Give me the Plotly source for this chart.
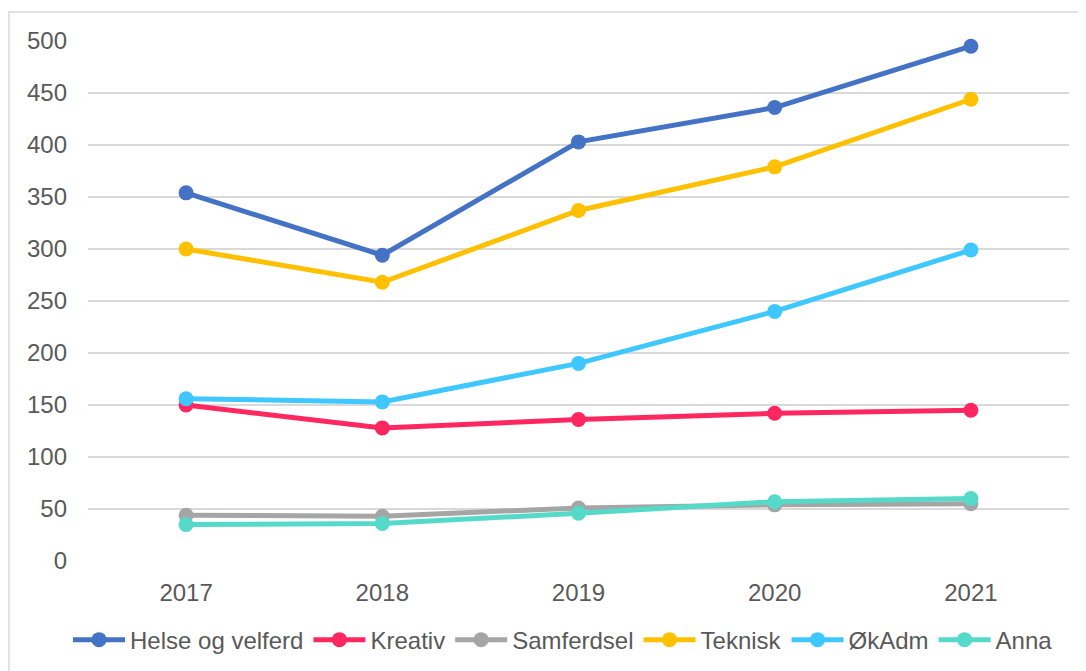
import plotly.graph_objects as go

years = ["2017", "2018", "2019", "2020", "2021"]
helse = [354, 294, 403, 436, 495]
kreativ = [150, 128, 136, 142, 145]
samferdsel = [44, 43, 51, 54, 55]
teknisk = [300, 268, 337, 379, 444]
okadm = [156, 153, 190, 240, 299]
anna = [35, 36, 46, 57, 60]

series_names = ["Helse og velferd", "Kreativ", "Samferdsel", "Teknisk", "ØkAdm", "Anna"]
series_values = [helse, kreativ, samferdsel, teknisk, okadm, anna]
colors = ["#4472C4", "#FF2760", "#A5A5A5", "#FFC000", "#3EC8FF", "#55D9C9"]

fig = go.Figure()
for name, vals, col in zip(series_names, series_values, colors):
    fig.add_trace(go.Scatter(
        x=years, y=vals, name=name, mode="lines+markers",
        line=dict(color=col, width=5),
        marker=dict(color=col, size=15),
        cliponaxis=False,
    ))

# page body has an 8px margin, so figure is offset by 8px
W, H = 1078, 663
L, T = 80, 33
PW, PH = 981, 520

fig.update_layout(
    width=W, height=H,
    margin=dict(l=L, r=W - L - PW, t=T, b=H - T - PH, autoexpand=False),
    paper_bgcolor="white", plot_bgcolor="white",
    font=dict(family="Liberation Sans, Arial, sans-serif", size=24, color="#595959"),
    showlegend=True,
    legend=dict(orientation="h", x=(60 - L) / PW, xanchor="left", y=-0.152, yanchor="middle",
                font=dict(size=24, color="#595959"), itemwidth=52, tracegroupgap=0),
    xaxis=dict(type="category", range=[-0.5, 4.5], showgrid=False, zeroline=False,
               showline=False, ticks="", ticklabelstandoff=15),
    yaxis=dict(range=[0, 500], dtick=50, tick0=0, showgrid=True, gridcolor="#D9D9D9",
               gridwidth=1.5, zeroline=False, showline=False, ticks="",
               ticklabelstandoff=20),
    shapes=[dict(type="rect", xref="paper", yref="paper",
                 x0=(1 - L) / PW, x1=1.2, y0=-0.4, y1=1 + (T - 4) / PH,
                 line=dict(color="#D9D9D9", width=1.5), fillcolor="rgba(0,0,0,0)",
                 layer="below")],
)

fig.write_html("out.html")
